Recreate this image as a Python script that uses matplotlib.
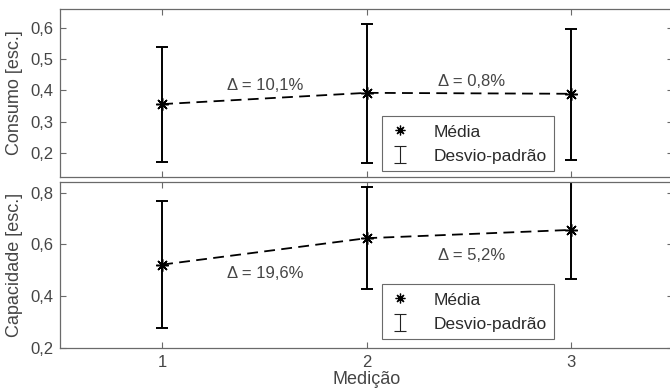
import numpy as np
import matplotlib
matplotlib.use("Agg")
import matplotlib.pyplot as plt
from matplotlib.ticker import FuncFormatter

plt.rcParams['font.family'] = ['Liberation Sans', 'DejaVu Sans']

GREY = '#454545'
EDGE = '#6a6a6a'

# measurements
medicao = [1, 2, 3]

consumo_media = [0.356, 0.392, 0.389]
consumo_sup = [0.540, 0.612, 0.597]
consumo_inf = [0.170, 0.169, 0.178]
consumo_delta = ['Δ = 10,1%', 'Δ = 0,8%']

capac_media = [0.522, 0.624, 0.656]
capac_sup = [0.767, 0.820, 0.848]
capac_inf = [0.277, 0.428, 0.467]
capac_delta = ['Δ = 19,6%', 'Δ = 5,2%']

fig = plt.figure(figsize=(6.7, 3.92), dpi=100)
ax0 = fig.add_axes([60/670, 1 - 177/392, 613/670, 168/392])
ax1 = fig.add_axes([60/670, 1 - 348/392, 613/670, 166/392])

comma = FuncFormatter(lambda v, p: ('%.1f' % v).replace('.', ','))
ASTER = (8, 2, 0)  # plus + cross, like an asterisk


def draw(ax, media, sup, inf, deltas, delta_pos, ylim, yticks, ylabel, leg_y):
    media = np.array(media)
    yerr = [media - np.array(inf), np.array(sup) - media]
    ax.plot(medicao, media, color='black', linestyle=(0, (6, 3.5)), linewidth=1.3)
    ax.errorbar(medicao, media, yerr=yerr, fmt='none', ecolor='black',
                elinewidth=1.4, capsize=4.5, capthick=1.4)
    ax.plot(medicao, media, linestyle='none', marker=ASTER, color='black',
            markersize=9, markeredgewidth=1.1)
    for txt, (x, y) in zip(deltas, delta_pos):
        ax.text(x, y, txt, ha='center', va='center', color=GREY, fontsize=12)

    ax.set_xlim(0.5, 3.5)
    ax.set_ylim(*ylim)
    ax.set_xticks(medicao)
    ax.set_yticks(yticks)
    ax.yaxis.set_major_formatter(comma)
    ax.tick_params(direction='in', length=4, width=0.8, color=EDGE,
                   labelcolor=GREY, labelsize=12, top=True, right=True, pad=5)
    for s in ax.spines.values():
        s.set_color(EDGE)
        s.set_linewidth(0.9)
    ax.set_ylabel(ylabel, color=GREY, fontsize=13)

    # legend handles: thin marker and a thin capped bar
    st_h, = ax.plot([np.nan], [np.nan], linestyle='none', marker=ASTER,
                    color='black', markersize=7, markeredgewidth=0.9)
    eb_h = ax.errorbar([np.nan], [np.nan], yerr=[1], fmt='none', ecolor='#222222',
                       elinewidth=0.8, capsize=4, capthick=0.8)
    lg = ax.legend([st_h, eb_h], ['Média', 'Desvio-padrão'],
                   loc='lower left', bbox_to_anchor=(382/670, 1 - leg_y/392),
                   bbox_transform=fig.transFigure, fancybox=False,
                   edgecolor=EDGE, framealpha=1, fontsize=12.5,
                   handlelength=1.3, handletextpad=1.3, borderpad=0.4,
                   labelspacing=0.45, borderaxespad=0, handleheight=1.0)
    lg.get_frame().set_linewidth(0.8)
    for t in lg.get_texts():
        t.set_color('#2a2a2a')


draw(ax0, consumo_media, consumo_sup, consumo_inf, consumo_delta,
     [(1.505, 0.415), (2.515, 0.427)], (0.123, 0.66),
     [0.2, 0.3, 0.4, 0.5, 0.6], 'Consumo [esc.]', 171)
draw(ax1, capac_media, capac_sup, capac_inf, capac_delta,
     [(1.505, 0.486), (2.515, 0.556)], (0.2, 0.841),
     [0.2, 0.4, 0.6, 0.8], 'Capacidade [esc.]', 339)

ax0.tick_params(labelbottom=False)
ax1.set_xlabel('Medição', color=GREY, fontsize=13, labelpad=1)
ax0.yaxis.set_label_coords(-0.060, 0.5)
ax1.yaxis.set_label_coords(-0.060, 0.5)

fig.savefig('out.png', dpi=100)
